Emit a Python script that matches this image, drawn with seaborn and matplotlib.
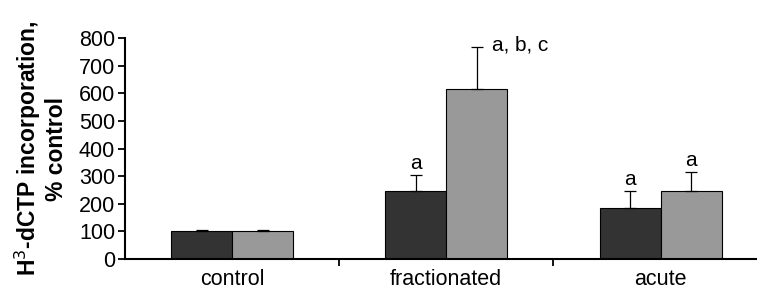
import pandas as pd
import seaborn as sns
import matplotlib.pyplot as plt

# dados
categorias = ['control', 'fractionated', 'acute']
grupos = ['g1', 'g2']
valores_g1 = [100, 247, 184]
valores_g2 = [100, 615, 246]
erro_g1 = [5, 57, 63]
erro_g2 = [5, 154, 70]
letras_g1 = ['', 'a', 'a']
letras_g2 = ['', 'a, b, c', 'a']

df = pd.DataFrame({
    'cat': categorias * 2,
    'grupo': ['g1'] * 3 + ['g2'] * 3,
    'valor': valores_g1 + valores_g2,
})

sns.set_style('ticks')
plt.rcParams['font.family'] = ['Liberation Sans', 'DejaVu Sans']
plt.rcParams['text.color'] = 'black'
plt.rcParams['xtick.color'] = 'black'
plt.rcParams['ytick.color'] = 'black'
plt.rcParams['axes.labelcolor'] = 'black'
plt.rcParams['axes.edgecolor'] = 'black'

fig = plt.figure(figsize=(7.57, 2.89), dpi=100)
ax = fig.add_axes([0.165, 0.1038, 0.835, 0.7647])

sns.barplot(data=df, x='cat', y='valor', hue='grupo', order=categorias,
            hue_order=grupos, palette=['#333333', '#999999'], width=0.57,
            errorbar=None, edgecolor='black', linewidth=0.8, legend=False,
            ax=ax)

# barras de erro e letras
erros = erro_g1 + erro_g2
letras = letras_g1 + letras_g2
for p, e, txt in zip(ax.patches, erros, letras):
    x = p.get_x() + p.get_width() / 2
    h = p.get_height()
    ax.errorbar(x, h, yerr=[[0], [e]], fmt='none', ecolor='black',
                elinewidth=0.9, capsize=4, capthick=0.9)
    if txt == 'a, b, c':
        ax.text(x + 0.07, h + e + 5, txt, ha='left', va='center', fontsize=15)
    elif txt:
        ax.text(x, h + e + 6, txt, ha='center', va='bottom', fontsize=15)

ax.set_ylim(0, 800)
ax.set_yticks(range(0, 801, 100))
ax.set_xlim(-0.5, 2.45)
ax.set_xticks([0, 1, 2])
ax.set_xticklabels(categorias)
ax.tick_params(axis='x', length=0, pad=7, labelsize=15.5)
ax.tick_params(axis='y', length=5, width=1.3, labelsize=15.5, pad=2)
ax.set_xticks([0.5, 1.5], minor=True)
ax.tick_params(axis='x', which='minor', length=5, width=1.3, direction='out')
ax.set_xlabel('')
ax.set_ylabel('H$^3$-dCTP incorporation,\n% control', fontsize=16.5,
              fontweight='bold', linespacing=1.1, labelpad=8)
for s in ['left', 'bottom']:
    ax.spines[s].set_linewidth(1.5)
sns.despine(ax=ax)

fig.savefig('out.png', dpi=100)
